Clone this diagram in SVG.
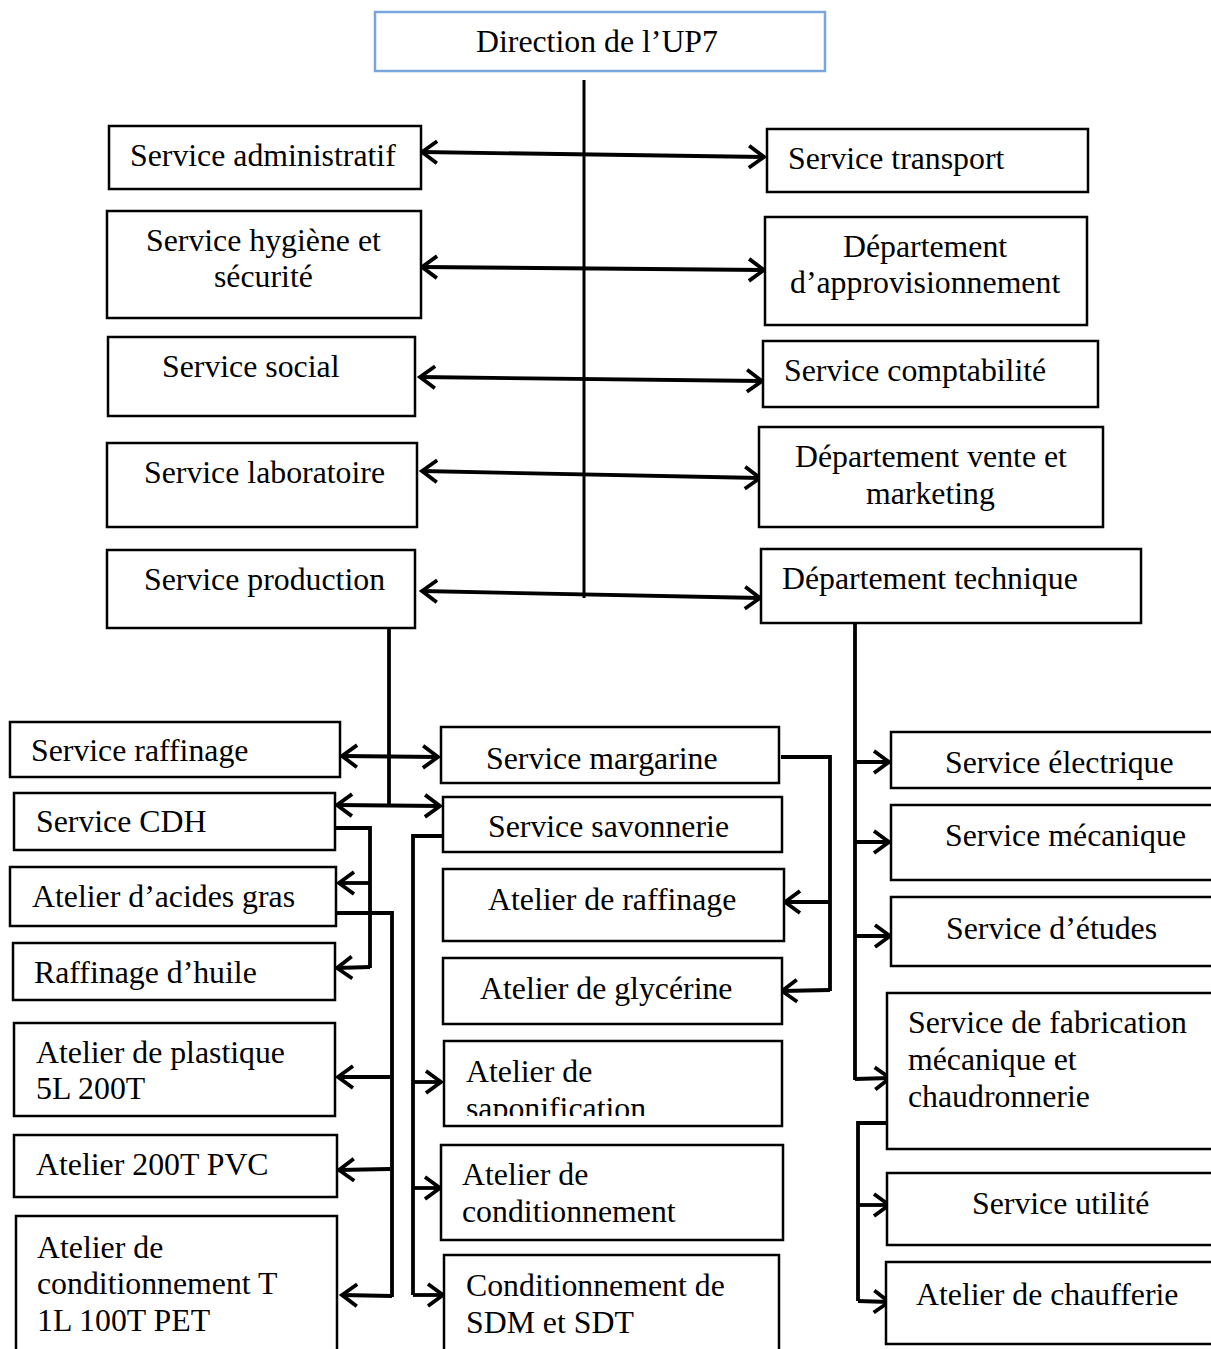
<svg xmlns="http://www.w3.org/2000/svg" width="1211" height="1349" viewBox="0 0 1211 1349">
<style>
.b{fill:#fff;stroke:#000;stroke-width:2.5}
.t{font-family:"Liberation Serif","Times New Roman",serif;font-size:31.8px;fill:#000}
.c{fill:none;stroke:#000;stroke-width:3.8}
.a{marker-end:url(#ah)}
.aa{marker-start:url(#ah);marker-end:url(#ah)}
</style>
<defs>
<marker id="ah" markerUnits="userSpaceOnUse" markerWidth="22" markerHeight="28" refX="17" refY="13" orient="auto-start-reverse" overflow="visible">
<path d="M2,2 L17,13 L2,24" fill="none" stroke="#000" stroke-width="3.8"/>
</marker>
<clipPath id="clipSapo"><rect x="444" y="1041" width="338" height="75"/></clipPath>
</defs>

<g id="connectors">
<line x1="584" y1="80" x2="584" y2="598" stroke="#000" stroke-width="3"/>
<line class="c aa" x1="422" y1="152" x2="764" y2="157"/>
<line class="c aa" x1="422" y1="267" x2="764" y2="270"/>
<line class="c aa" x1="420" y1="377" x2="762" y2="381"/>
<line class="c aa" x1="422" y1="471" x2="760" y2="478"/>
<line class="c aa" x1="422" y1="591" x2="760" y2="598"/>

<line class="c" x1="389" y1="628" x2="389" y2="806"/>
<line class="c aa" x1="342" y1="756" x2="438" y2="757"/>
<line class="c aa" x1="337" y1="805" x2="440" y2="806"/>

<polyline class="c" points="336,828 370,828 370,968"/>
<line class="c a" x1="370" y1="883" x2="339" y2="883"/>
<line class="c a" x1="370" y1="967" x2="337" y2="968"/>

<polyline class="c" points="336,913 392,913 392,1297"/>
<line class="c a" x1="392" y1="1077" x2="338" y2="1077"/>
<line class="c a" x1="390" y1="1169" x2="339" y2="1170"/>
<line class="c a" x1="392" y1="1296" x2="342" y2="1295"/>

<polyline class="c" points="443,836 413,836 413,1295"/>
<line class="c a" x1="413" y1="1082" x2="441" y2="1082"/>
<line class="c a" x1="413" y1="1188" x2="440" y2="1188"/>
<line class="c a" x1="413" y1="1295" x2="443" y2="1295"/>

<polyline class="c" points="781,757 830,757 830,991"/>
<line class="c a" x1="830" y1="902" x2="785" y2="902"/>
<line class="c a" x1="830" y1="990" x2="782" y2="991"/>

<line class="c" x1="855" y1="623" x2="855" y2="1080"/>
<line class="c a" x1="855" y1="762" x2="889" y2="762"/>
<line class="c a" x1="855" y1="842" x2="889" y2="842"/>
<line class="c a" x1="855" y1="936" x2="890" y2="936"/>
<line class="c a" x1="855" y1="1079" x2="890" y2="1078"/>

<polyline class="c" points="887,1123 858,1123 858,1301"/>
<line class="c a" x1="858" y1="1205" x2="889" y2="1205"/>
<line class="c a" x1="858" y1="1301" x2="889" y2="1302"/>
</g>

<g id="n-direction"><rect x="375" y="12" width="450" height="59" fill="#fff" stroke="#79a6dc" stroke-width="2.5"/><text class="t" x="476" y="52">Direction de l’UP7</text></g>

<g id="n-administratif"><rect class="b" x="109" y="126" width="312" height="63"/><text class="t" x="130" y="166">Service administratif</text></g>
<g id="n-hygiene"><rect class="b" x="107" y="211" width="314" height="107"/><text class="t" x="146" y="251">Service hygiène et</text><text class="t" x="214" y="287">sécurité</text></g>
<g id="n-social"><rect class="b" x="108" y="337" width="307" height="79"/><text class="t" x="162" y="377">Service social</text></g>
<g id="n-laboratoire"><rect class="b" x="107" y="443" width="310" height="84"/><text class="t" x="144" y="483">Service laboratoire</text></g>
<g id="n-production"><rect class="b" x="107" y="550" width="308" height="78"/><text class="t" x="144" y="590">Service production</text></g>

<g id="n-transport"><rect class="b" x="767" y="129" width="321" height="63"/><text class="t" x="788" y="169">Service transport</text></g>
<g id="n-approvisionnement"><rect class="b" x="765" y="217" width="322" height="108"/><text class="t" x="843" y="257">Département</text><text class="t" x="790" y="293">d’approvisionnement</text></g>
<g id="n-comptabilite"><rect class="b" x="763" y="341" width="335" height="66"/><text class="t" x="784" y="381">Service comptabilité</text></g>
<g id="n-vente"><rect class="b" x="759" y="427" width="344" height="100"/><text class="t" x="795" y="467">Département vente et</text><text class="t" x="866" y="504">marketing</text></g>
<g id="n-technique"><rect class="b" x="761" y="549" width="380" height="74"/><text class="t" x="782" y="589">Département technique</text></g>

<g id="n-raffinage"><rect class="b" x="10" y="722" width="330" height="55"/><text class="t" x="31" y="761">Service raffinage</text></g>
<g id="n-cdh"><rect class="b" x="14" y="793" width="321" height="57"/><text class="t" x="36" y="832">Service CDH</text></g>
<g id="n-acides"><rect class="b" x="10" y="867" width="326" height="59"/><text class="t" x="32" y="907">Atelier d’acides gras</text></g>
<g id="n-huile"><rect class="b" x="13" y="943" width="322" height="57"/><text class="t" x="34" y="983">Raffinage d’huile</text></g>
<g id="n-plastique"><rect class="b" x="14" y="1023" width="321" height="93"/><text class="t" x="36" y="1063">Atelier de plastique</text><text class="t" x="36" y="1099">5L 200T</text></g>
<g id="n-pvc"><rect class="b" x="14" y="1135" width="323" height="62"/><text class="t" x="36" y="1175">Atelier 200T PVC</text></g>
<g id="n-pet"><rect class="b" x="16" y="1216" width="321" height="140"/><text class="t" x="37" y="1258">Atelier de</text><text class="t" x="37" y="1294">conditionnement T</text><text class="t" x="37" y="1331">1L 100T PET</text></g>

<g id="n-margarine"><rect class="b" x="441" y="727" width="338" height="56"/><text class="t" x="486" y="769">Service margarine</text></g>
<g id="n-savonnerie"><rect class="b" x="443" y="797" width="339" height="55"/><text class="t" x="488" y="837">Service savonnerie</text></g>
<g id="n-atraffinage"><rect class="b" x="443" y="869" width="341" height="72"/><text class="t" x="488" y="910">Atelier de raffinage</text></g>
<g id="n-glycerine"><rect class="b" x="443" y="958" width="339" height="66"/><text class="t" x="480" y="999">Atelier de glycérine</text></g>
<g id="n-saponification"><rect class="b" x="444" y="1041" width="338" height="85"/><g clip-path="url(#clipSapo)"><text class="t" x="466" y="1082">Atelier de</text><text class="t" x="466" y="1119">saponification</text></g></g>
<g id="n-conditionnement"><rect class="b" x="441" y="1145" width="342" height="95"/><text class="t" x="462" y="1185">Atelier de</text><text class="t" x="462" y="1222">conditionnement</text></g>
<g id="n-sdm"><rect class="b" x="444" y="1255" width="335" height="100"/><text class="t" x="466" y="1296">Conditionnement de</text><text class="t" x="466" y="1333">SDM et SDT</text></g>

<g id="n-electrique"><rect class="b" x="891" y="732" width="330" height="56"/><text class="t" x="945" y="773">Service électrique</text></g>
<g id="n-mecanique"><rect class="b" x="891" y="805" width="330" height="75"/><text class="t" x="945" y="846">Service mécanique</text></g>
<g id="n-etudes"><rect class="b" x="891" y="897" width="330" height="69"/><text class="t" x="946" y="939">Service d’études</text></g>
<g id="n-fabrication"><rect class="b" x="887" y="993" width="334" height="156"/><text class="t" x="908" y="1033">Service de fabrication</text><text class="t" x="908" y="1070">mécanique et</text><text class="t" x="908" y="1107">chaudronnerie</text></g>
<g id="n-utilite"><rect class="b" x="887" y="1173" width="334" height="72"/><text class="t" x="972" y="1214">Service utilité</text></g>
<g id="n-chaufferie"><rect class="b" x="886" y="1262" width="335" height="82"/><text class="t" x="916" y="1305">Atelier de chaufferie</text></g>
</svg>
